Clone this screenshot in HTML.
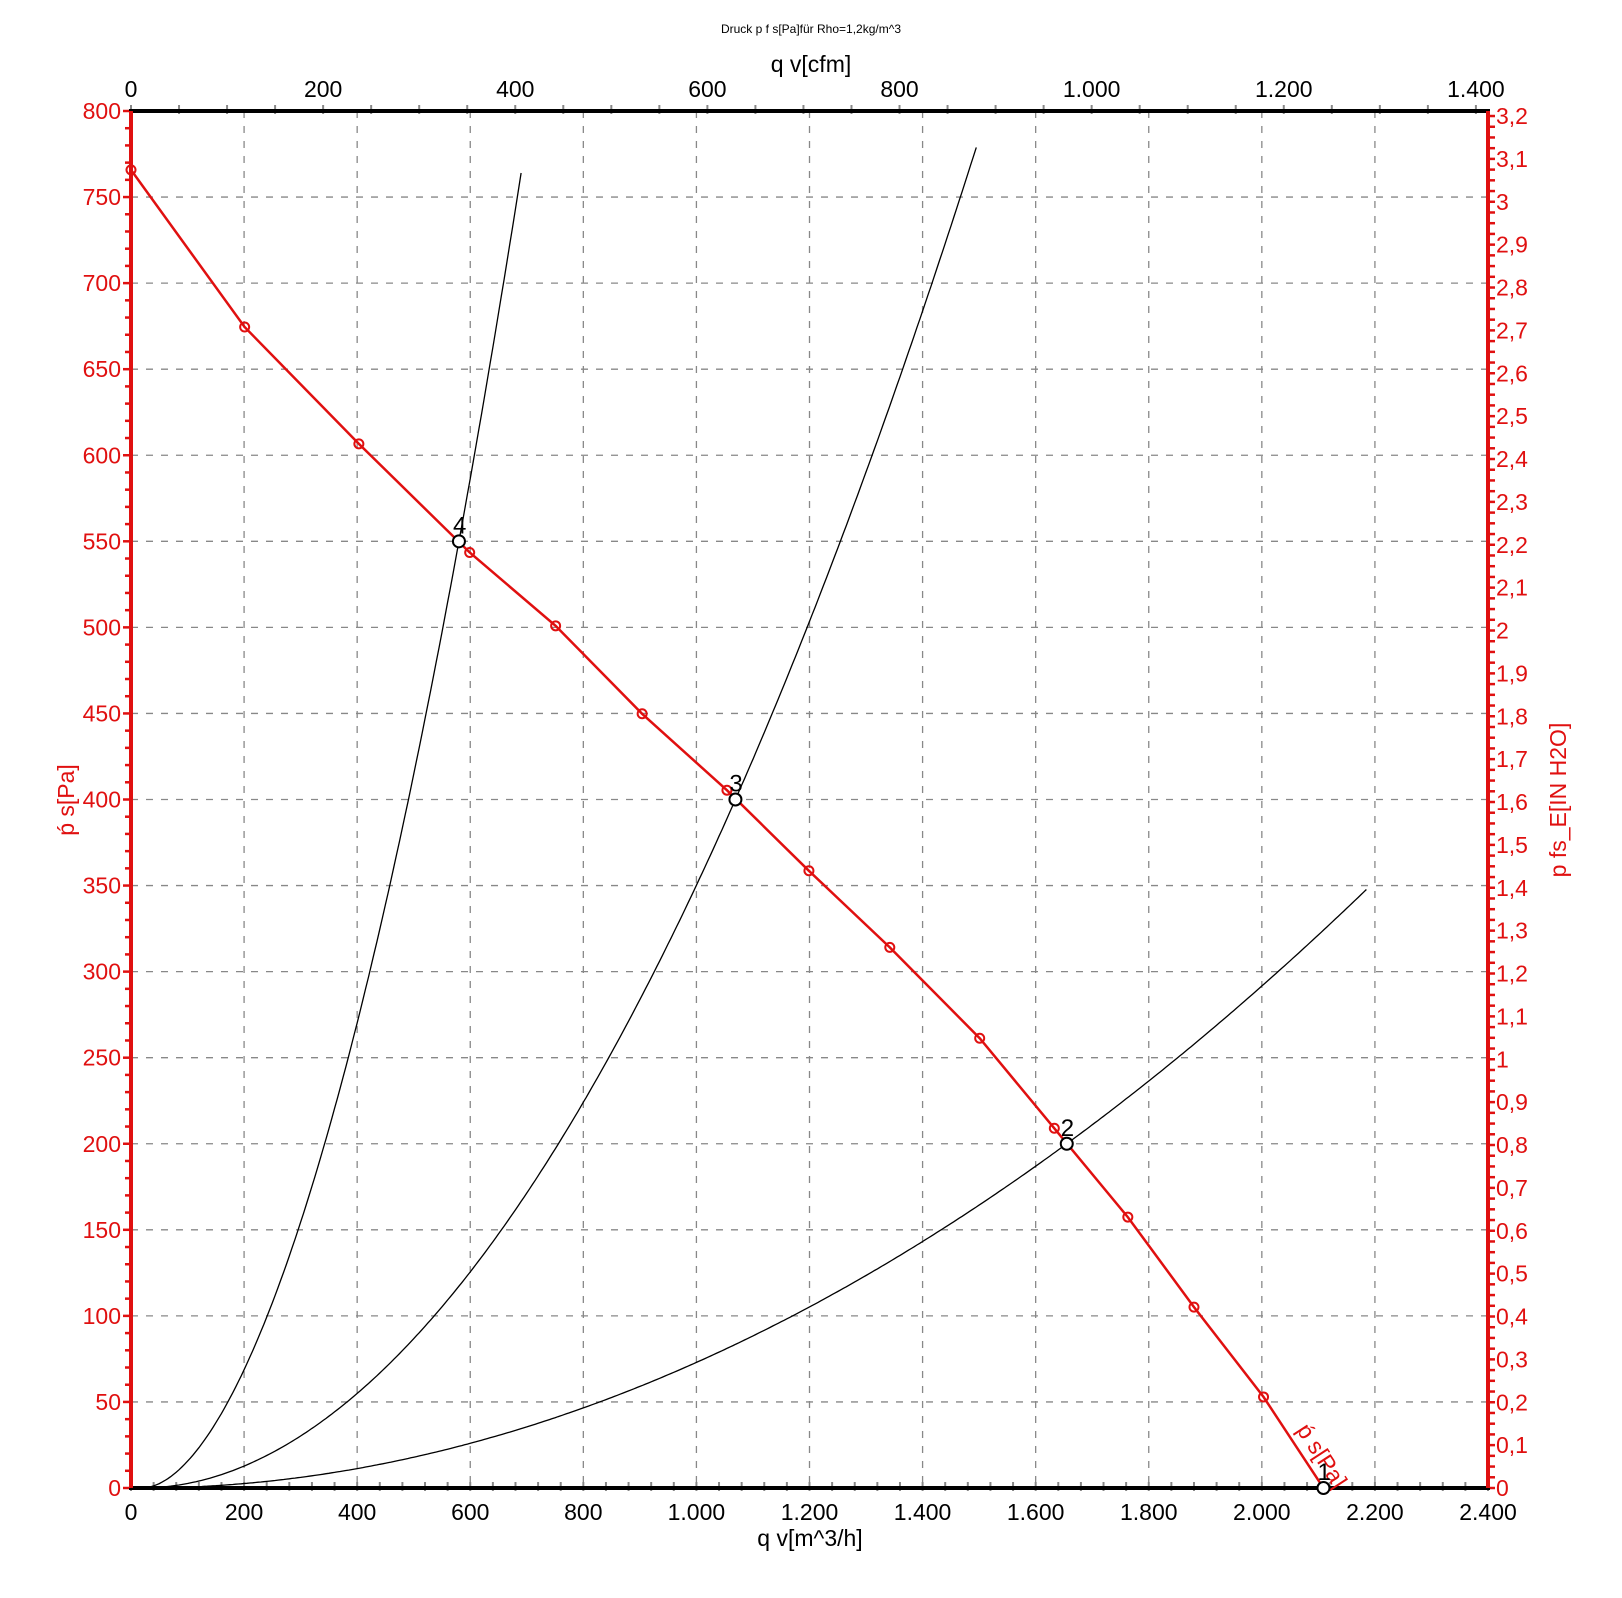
<!DOCTYPE html>
<html><head><meta charset="utf-8"><style>
html,body{margin:0;padding:0;background:#fff;width:1622px;height:1598px;overflow:hidden}
svg text{font-family:"Liberation Sans",sans-serif}
</style></head><body>
<svg id="s" width="1622" height="1598" xmlns="http://www.w3.org/2000/svg"></svg>
<script>
const s=document.getElementById('s');
const L=131,R=1488,T=111,B=1488;
const X=d=>L+d/2400*(R-L), Y=p=>B-p/800*(B-T);
let h='';
const RED='#e01010';
// grid
for(let i=1;i<12;i++){const x=X(i*200);h+=`<line x1="${x}" y1="${T}" x2="${x}" y2="${B}" stroke="#888" stroke-width="1.3" stroke-dasharray="7,8"/>`;}
for(let i=1;i<16;i++){const y=Y(i*50);h+=`<line x1="${L}" y1="${y}" x2="${R}" y2="${y}" stroke="#888" stroke-width="1.3" stroke-dasharray="7,8"/>`;}
// bottom ticks
for(let v=0;v<=2400;v+=40){const x=X(v);h+=`<line x1="${x}" y1="${B-6}" x2="${x}" y2="${B+3}" stroke="#888" stroke-width="2"/>`;}
for(let v=0;v<=2400;v+=200){const x=X(v);h+=`<text x="${x}" y="${B+32}" font-size="23" text-anchor="middle">${v>=1000?(Math.floor(v/1000)+'.'+String(v%1000).padStart(3,'0')):v}</text>`;}
// top cfm
const cf=v=>L+v/(2400*0.58858)*(R-L);
for(let v=0;v<=1400;v+=50){const x=cf(v);h+=`<line x1="${x}" y1="${T-6}" x2="${x}" y2="${T+3}" stroke="#888" stroke-width="2"/>`;}
for(let v=0;v<=1400;v+=200){const x=cf(v);h+=`<text x="${x}" y="${T-14}" font-size="23" text-anchor="middle">${v>=1000?(Math.floor(v/1000)+'.'+String(v%1000).padStart(3,'0')):v}</text>`;}
// left ticks
for(let v=0;v<=800;v+=10){const y=Y(v);const w=v%50?6:8;h+=`<line x1="${L-w}" y1="${y}" x2="${L}" y2="${y}" stroke="${RED}" stroke-width="2.5"/>`;}
for(let v=0;v<=800;v+=50){h+=`<text x="${L-10}" y="${Y(v)+8}" font-size="23" fill="${RED}" text-anchor="end">${v}</text>`;}
// right ticks
const Yi=v=>Y(v*249.089);
for(let v=0;v<=3.2001;v+=0.025){const y=Yi(v);h+=`<line x1="${R}" y1="${y}" x2="${R+7}" y2="${y}" stroke="${RED}" stroke-width="2.5"/>`;}
for(let i=0;i<=32;i++){h+=`<text x="${R+8}" y="${Yi(i/10)+8}" font-size="23" fill="${RED}">${i==0?'0':(i/10).toString().replace('.',',')}</text>`;}
// axes
h+=`<line x1="${L-2}" y1="${T}" x2="${R+2}" y2="${T}" stroke="#000" stroke-width="4"/>`;
h+=`<line x1="${L-2}" y1="${B}" x2="${R+2}" y2="${B}" stroke="#000" stroke-width="4"/>`;
h+=`<line x1="${L}" y1="${T}" x2="${L}" y2="${B}" stroke="${RED}" stroke-width="4"/>`;
h+=`<line x1="${R}" y1="${T}" x2="${R}" y2="${B}" stroke="${RED}" stroke-width="4"/>`;
// titles
h+=`<text x="811" y="33" font-size="12" text-anchor="middle">Druck p f s[Pa]für Rho=1,2kg/m^3</text>`;
h+=`<text x="811" y="72" font-size="23" text-anchor="middle">q v[cfm]</text>`;
h+=`<text x="810" y="1546" font-size="23" text-anchor="middle">q v[m^3/h]</text>`;
h+=`<text transform="translate(74,800) rotate(-90)" font-size="23" fill="${RED}" text-anchor="middle">ṕ s[Pa]</text>`;
h+=`<text transform="translate(1566,800) rotate(-90)" font-size="23" fill="${RED}" text-anchor="middle">p fs_E[IN H2O]</text>`;
// system curves
function sys(a,n,x0,xe){let p=[];for(let x=x0;x<=xe;x+=5){p.push(X(x).toFixed(1)+','+Y(a*Math.pow(Math.max(x-x0,0),n)).toFixed(1));}return p.join(' ');}
function mk(x1,y1,x2,y2,x0){const n=Math.log(y2/y1)/Math.log((x2-x0)/(x1-x0));const a=y1/Math.pow(x1-x0,n);return [a,n];}
let c=[[580,550,690,764,20],[1069,400,1499,783,20],[1655,200,2189,349,20]];
for(const q of c){const [a,n]=mk(q[0],q[1],q[2],q[3],q[4]);h+=`<polyline points="${sys(a,n,q[4],q[2])}" fill="none" stroke="#000" stroke-width="1.3"/>`;}
// red curve
const pts=[[0,765.8],[201,674.5],[403,606.6],[599,543.5],[751,500.9],[904,449.8],[1054,405.4],[1199,358.6],[1342,314.1],[1501,261.3],[1633,209],[1763,157.4],[1880,105.1],[2003,52.9],[2109,0]];
h+=`<polyline points="${pts.map(p=>X(p[0]).toFixed(1)+','+Y(p[1]).toFixed(1)).join(' ')}" fill="none" stroke="${RED}" stroke-width="2.5"/>`;
for(const p of pts.slice(0,14)){h+=`<circle cx="${X(p[0])}" cy="${Y(p[1])}" r="4.5" fill="none" stroke="${RED}" stroke-width="2"/>`;}
h+=`<text transform="translate(1296,1430) rotate(57)" font-size="23" fill="${RED}">ṕ s[Pa]</text>`;
// operating points
const op=[[2109,0,'1'],[1655,200,'2'],[1069,400,'3'],[580,550,'4']];
for(const o of op){const x=X(o[0]),y=Y(o[1]);h+=`<circle cx="${x}" cy="${y}" r="6" fill="#fff" stroke="#000" stroke-width="2"/><text x="${x-6}" y="${y-8}" font-size="24">${o[2]}</text>`;}
s.innerHTML=h;
</script>
</body></html>
